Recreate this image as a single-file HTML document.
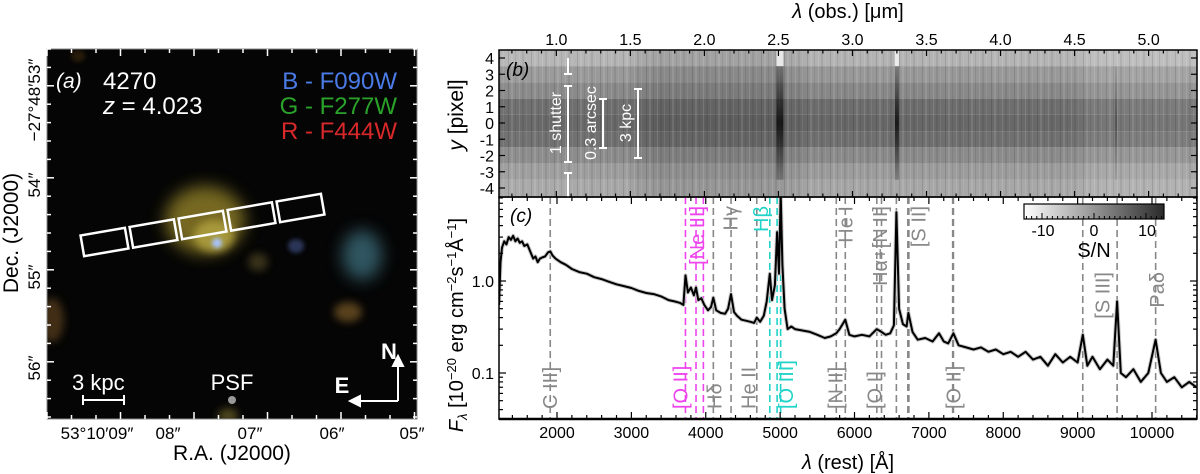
<!DOCTYPE html>
<html><head><meta charset="utf-8">
<style>
html,body{margin:0;padding:0;background:#fff;}
svg{display:block;font-family:"Liberation Sans",sans-serif;}
</style></head>
<body>
<svg id="fig" width="1200" height="474" viewBox="0 0 1200 474" xmlns="http://www.w3.org/2000/svg">
<defs>
  <filter id="blur8" x="-50%" y="-50%" width="200%" height="200%"><feGaussianBlur stdDeviation="8"/></filter>
  <filter id="blur4" x="-50%" y="-50%" width="200%" height="200%"><feGaussianBlur stdDeviation="4"/></filter>
  <filter id="blur2" x="-50%" y="-50%" width="200%" height="200%"><feGaussianBlur stdDeviation="2"/></filter>
  <linearGradient id="cbar" x1="0" x2="1" y1="0" y2="0">
    <stop offset="0" stop-color="#ffffff"/><stop offset="1" stop-color="#2a2a2a"/>
  </linearGradient>
  <linearGradient id="vline" x1="0" x2="0" y1="0" y2="1">
    <stop offset="0" stop-color="#111" stop-opacity="0.25"/>
    <stop offset="0.5" stop-color="#000" stop-opacity="0.85"/>
    <stop offset="1" stop-color="#111" stop-opacity="0.25"/>
  </linearGradient>
  <linearGradient id="bandshade" x1="0" x2="1" y1="0" y2="0">
    <stop offset="0" stop-color="#000" stop-opacity="0"/>
    <stop offset="0.18" stop-color="#000" stop-opacity="0.02"/>
    <stop offset="0.22" stop-color="#000" stop-opacity="0.12"/>
    <stop offset="0.40" stop-color="#000" stop-opacity="0.12"/>
    <stop offset="0.45" stop-color="#000" stop-opacity="0.03"/>
    <stop offset="0.80" stop-color="#000" stop-opacity="0.02"/>
    <stop offset="0.85" stop-color="#fff" stop-opacity="0.08"/>
    <stop offset="1" stop-color="#fff" stop-opacity="0.08"/>
  </linearGradient>
  <pattern id="stripes" width="23" height="10" patternUnits="userSpaceOnUse">
    <rect x="2" y="0" width="1" height="10" fill="#000" opacity="0.12"/>
    <rect x="5" y="0" width="2" height="10" fill="#fff" opacity="0.1"/>
    <rect x="9" y="0" width="1" height="10" fill="#000" opacity="0.08"/>
    <rect x="13" y="0" width="1" height="10" fill="#fff" opacity="0.12"/>
    <rect x="16" y="0" width="2" height="10" fill="#000" opacity="0.07"/>
    <rect x="20" y="0" width="1" height="10" fill="#fff" opacity="0.08"/>
  </pattern>
</defs>

<!-- ================= PANEL A ================= -->
<g>
  <rect x="47" y="49" width="370" height="370" fill="#050505"/>
  <clipPath id="clipA"><rect x="47" y="49" width="370" height="370"/></clipPath>
  <g clip-path="url(#clipA)">
    <ellipse cx="205" cy="220" rx="40" ry="34" fill="#8a7a28" opacity="0.85" filter="url(#blur8)"/>
    <ellipse cx="214" cy="236" rx="20" ry="16" fill="#b0a040" opacity="0.85" filter="url(#blur4)"/>
    <circle cx="217" cy="243" r="5" fill="#a8c4ff" filter="url(#blur2)"/>
    <ellipse cx="362" cy="255" rx="20" ry="25" fill="#3a6a78" opacity="0.8" filter="url(#blur8)"/>
    <ellipse cx="348" cy="312" rx="14" ry="10" fill="#7a5a28" opacity="0.7" filter="url(#blur4)"/>
    <ellipse cx="296" cy="246" rx="8" ry="7" fill="#3a4a7a" opacity="0.7" filter="url(#blur2)"/>
    <ellipse cx="258" cy="262" rx="10" ry="9" fill="#5a5028" opacity="0.6" filter="url(#blur4)"/>
    <ellipse cx="52" cy="320" rx="12" ry="22" fill="#6a4a20" opacity="0.6" filter="url(#blur4)"/>
    <ellipse cx="228" cy="416" rx="10" ry="8" fill="#6a6028" opacity="0.7" filter="url(#blur4)"/>
    <ellipse cx="78" cy="56" rx="7" ry="6" fill="#4a3010" opacity="0.5" filter="url(#blur2)"/>
  </g>
  <rect x="47" y="49" width="370" height="370" fill="none" stroke="#888" stroke-width="1"/>
  <g id="imgTicks"></g>
  <g id="slits"></g>
  <text x="56" y="88" fill="#fff" font-size="21" font-style="italic">(a)</text>
  <text x="103" y="89" fill="#fff" font-size="24">4270</text>
  <text x="103" y="114" fill="#fff" font-size="24"><tspan font-style="italic">z</tspan> = 4.023</text>
  <text x="397" y="89" fill="#4a7be6" font-size="24" text-anchor="end">B - F090W</text>
  <text x="397" y="114" fill="#2aa32a" font-size="24" text-anchor="end">G - F277W</text>
  <text x="397" y="139" fill="#d8282a" font-size="24" text-anchor="end">R - F444W</text>
  <text x="72" y="390" fill="#fff" font-size="22">3 kpc</text>
  <g stroke="#fff" stroke-width="2">
    <line x1="83" y1="400" x2="124" y2="400"/><line x1="83" y1="395" x2="83" y2="405"/><line x1="124" y1="395" x2="124" y2="405"/>
  </g>
  <text x="232" y="390" fill="#fff" font-size="22" text-anchor="middle">PSF</text>
  <circle cx="232" cy="400" r="4" fill="#999"/>
  <text x="389" y="359" fill="#fff" font-size="22" font-weight="bold" text-anchor="middle">N</text>
  <text x="342" y="393" fill="#fff" font-size="22" font-weight="bold" text-anchor="middle">E</text>
  <g stroke="#fff" stroke-width="2" fill="#fff">
    <line x1="398" y1="401" x2="398" y2="363"/><polygon points="398,356 393,366 403,366"/>
    <line x1="398" y1="401" x2="358" y2="401"/><polygon points="350,401 360,396 360,406"/>
  </g>
  <g font-size="17" fill="#000">
    <text x="97" y="439" text-anchor="middle">53°10′09″</text>
    <text x="168" y="439" text-anchor="middle">08″</text>
    <text x="250" y="439" text-anchor="middle">07″</text>
    <text x="332" y="439" text-anchor="middle">06″</text>
    <text x="412" y="439" text-anchor="middle">05″</text>
  </g>
  <text x="232" y="460" font-size="21" text-anchor="middle">R.A. (J2000)</text>
  <g font-size="17" fill="#000">
    <text transform="translate(40,100) rotate(-90)" text-anchor="middle">−27°48′53″</text>
    <text transform="translate(40,185) rotate(-90)" text-anchor="middle">54″</text>
    <text transform="translate(40,277) rotate(-90)" text-anchor="middle">55″</text>
    <text transform="translate(40,368) rotate(-90)" text-anchor="middle">56″</text>
  </g>
  <text transform="translate(18,233) rotate(-90)" font-size="21" text-anchor="middle">Dec. (J2000)</text>
</g>

<!-- ================= PANEL B ================= -->
<g>
  <g id="spec2d"></g>
  <rect x="499" y="50" width="698" height="147" fill="url(#bandshade)"/>
  <rect x="499" y="50" width="698" height="147" fill="url(#stripes)"/>
  <g id="darkLines"></g>
  <rect x="499" y="50" width="698" height="147" fill="none" stroke="#000" stroke-width="1.5"/>
  <g id="bTicks"></g>
  <text x="506" y="76" font-size="19" font-style="italic">(b)</text>
  <g stroke="#fff" stroke-width="2">
    <line x1="568" y1="58" x2="568" y2="74"/><line x1="564" y1="74" x2="572" y2="74"/>
    <line x1="568" y1="86" x2="568" y2="162"/><line x1="564" y1="86" x2="572" y2="86"/><line x1="564" y1="162" x2="572" y2="162"/>
    <line x1="568" y1="173" x2="568" y2="197"/><line x1="564" y1="173" x2="572" y2="173"/>
  </g>
  <g stroke="#fff" stroke-width="2">
    <line x1="603" y1="99" x2="603" y2="148"/><line x1="599" y1="99" x2="607" y2="99"/><line x1="599" y1="148" x2="607" y2="148"/>
  </g>
  <g stroke="#fff" stroke-width="2">
    <line x1="638" y1="89" x2="638" y2="158"/><line x1="634" y1="89" x2="642" y2="89"/><line x1="634" y1="158" x2="642" y2="158"/>
  </g>
  <text transform="translate(561,123) rotate(-90)" fill="#fff" font-size="16" text-anchor="middle">1 shutter</text>
  <text transform="translate(596,123) rotate(-90)" fill="#fff" font-size="16" text-anchor="middle">0.3 arcsec</text>
  <text transform="translate(631,123) rotate(-90)" fill="#fff" font-size="16" text-anchor="middle">3 kpc</text>
  <text x="848" y="18" font-size="20" text-anchor="middle"><tspan font-style="italic">λ</tspan> (obs.) [μm]</text>
  <text transform="translate(463,115) rotate(-90)" font-size="21" text-anchor="middle"><tspan font-style="italic">y</tspan> [pixel]</text>
</g>

<!-- ================= PANEL C ================= -->
<g>
  <clipPath id="clipC"><rect x="499" y="197" width="698" height="222"/></clipPath>
  <g id="lineMarks"></g>
  <g clip-path="url(#clipC)">
    <polyline id="errLine" fill="none" stroke="#c8c8c8" stroke-width="4" stroke-linejoin="round"/>
    <polyline id="specLine" fill="none" stroke="#000" stroke-width="2" stroke-linejoin="round"/>
  </g>
  <g id="lineLabels"></g>
  <rect x="499" y="197" width="698" height="222" fill="none" stroke="#000" stroke-width="1.5"/>
  <line x1="499" y1="419" x2="1197" y2="419" stroke="#000" stroke-width="2.5"/>
  <g id="cTicks"></g>
  <text x="510" y="222" font-size="19" font-style="italic">(c)</text>
  <g>
    <rect x="1024" y="204" width="140" height="15" fill="url(#cbar)" stroke="#000" stroke-width="1.2"/>
    <g id="cbTicks"></g>
    <text x="1043" y="236" font-size="16" text-anchor="middle">-10</text>
    <text x="1094" y="236" font-size="16" text-anchor="middle">0</text>
    <text x="1147" y="236" font-size="16" text-anchor="middle">10</text>
    <text x="1094" y="257" font-size="20" text-anchor="middle">S/N</text>
  </g>
  <text x="848" y="469" font-size="20" text-anchor="middle"><tspan font-style="italic">λ</tspan> (rest) [Å]</text>
  <text transform="translate(463,325) rotate(-90)" font-size="20" text-anchor="middle"><tspan font-style="italic">F</tspan><tspan font-size="13" dy="4" font-style="italic">λ</tspan><tspan dy="-4"> [10</tspan><tspan font-size="13" dy="-7">−20</tspan><tspan dy="7"> erg cm</tspan><tspan font-size="13" dy="-7">−2</tspan><tspan dy="7">s</tspan><tspan font-size="13" dy="-7">−1</tspan><tspan dy="7">Å</tspan><tspan font-size="13" dy="-7">−1</tspan><tspan dy="7">]</tspan></text>
</g>
</svg>

<script>
// ---------- data ----------
const restWave = [1220,1240,1260,1290,1320,1350,1380,1410,1440,1470,1500,1530,1560,1600,1640,1680,1710,1740,1770,1800,1840,1880,1910,1940,1980,2050,2120,2200,2300,2400,2500,2600,2700,2800,2900,3000,3100,3200,3300,3400,3500,3580,3650,3700,3727,3760,3800,3840,3869,3900,3940,3980,4030,4070,4102,4140,4200,4260,4300,4340,4380,4420,4480,4540,4600,4650,4686,4730,4780,4820,4861,4890,4930,4959,4985,5007,5030,5060,5100,5150,5200,5300,5400,5500,5600,5680,5755,5800,5876,5930,6000,6100,6200,6300,6363,6420,6480,6530,6563,6600,6650,6700,6725,6780,6850,6950,7050,7136,7200,7260,7330,7400,7500,7600,7700,7800,7900,8000,8100,8200,8300,8400,8500,8600,8700,8800,8900,9000,9069,9130,9200,9300,9400,9480,9531,9580,9650,9750,9850,9950,10049,10120,10200,10300,10400,10500,10600];
const fluxVal  = [0.55,1.6,2.3,2.7,2.5,3.0,2.8,3.1,2.7,2.9,2.6,2.7,2.4,2.5,2.1,1.75,1.85,1.6,1.75,1.8,1.85,2.05,2.1,1.9,1.75,1.6,1.5,1.35,1.25,1.2,1.1,1.05,0.98,0.92,0.88,0.84,0.78,0.74,0.72,0.68,0.62,0.6,0.58,0.55,1.15,0.75,0.85,0.7,0.85,0.62,0.65,0.55,0.48,0.52,0.66,0.48,0.45,0.44,0.5,0.72,0.46,0.42,0.38,0.37,0.36,0.35,0.4,0.36,0.42,0.6,1.2,0.62,0.9,3.4,1.2,9,1.5,0.5,0.3,0.32,0.3,0.29,0.28,0.26,0.24,0.25,0.27,0.3,0.38,0.26,0.25,0.26,0.25,0.3,0.28,0.26,0.27,0.33,5.6,0.5,0.34,0.32,0.45,0.28,0.23,0.24,0.22,0.27,0.22,0.21,0.27,0.2,0.19,0.18,0.19,0.17,0.18,0.16,0.17,0.15,0.17,0.14,0.15,0.12,0.16,0.13,0.15,0.13,0.26,0.12,0.15,0.11,0.14,0.12,0.6,0.1,0.09,0.11,0.08,0.1,0.23,0.1,0.08,0.09,0.07,0.08,0.07];
const lineWaves  = [1909,3727,3869,3968,4102,4340,4686,4861,4959,5007,5755,5876,6300,6363,6563,6717,6731,7320,7330,9069,9531,10049];
const lineColors = ["#888","#ee44ee","#ee44ee","#ee44ee","#888","#888","#888","#22d3c8","#22d3c8","#22d3c8","#888","#888","#888","#888","#888","#888","#888","#888","#888","#888","#888","#888"];
const labelText  = ["C III]","[O II]","[Ne III]","Hδ","Hγ","He II","Hβ","[O III]","[N II]","He I","[O I]","Hα+[N II]","[S II]","[O II]","[S III]","Paδ"];
const labelWave  = [1909,3660,3880,4120,4330,4575,4740,5080,5745,5880,6270,6345,6860,7330,9335,10070];
const labelColor = ["#888","#ee44ee","#ee44ee","#888","#888","#888","#22d3c8","#22d3c8","#888","#888","#888","#888","#888","#888","#888","#888"];
const labelSide  = ["bottom","bottom","top","bottom","top","bottom","top","bottom","bottom","top","bottom","top","top","bottom","mid","mid"];
const restTicks  = [2000,3000,4000,5000,6000,7000,8000,9000,10000];
const fluxTicks  = [1.0,0.1];
const fluxTickLabels = ["1.0","0.1"];
const obsTicks   = [1.0,1.5,2.0,2.5,3.0,3.5,4.0,4.5,5.0];
const pixTicks   = [4,3,2,1,0,-1,-2,-3,-4];
const rowGray    = ["#b8b8b8","#9c9c9c","#8c8c8c","#707070","#6a6a6a","#727272","#8e8e8e","#a0a0a0","#ababab"];
const obsLines2d = [2.51,3.30,4.78];
const redshift = 4.023;

// ---------- scales ----------
const X0=499, X1=1197, W0=1220, W1=10605;
function xRest(w){ return X0 + (w-W0)/(W1-W0)*(X1-X0); }
function xObs(um){ return xRest(um*1e4/(1+redshift)); }
function yFlux(f){ return 281 - 92*Math.log10(f); }
function yPix(p){ return 123 - p*16.25; }
const NS="http://www.w3.org/2000/svg";
function mk(tag, attrs, parent){ const e=document.createElementNS(NS,tag); for(const k in attrs) e.setAttribute(k,attrs[k]); parent.appendChild(e); return e; }

// ---------- panel a ticks & slits ----------
const it=document.getElementById('imgTicks');
for(let i=0;i<=15;i++){
  const x=47+i*24.5, len=(i%3===0)?7:4;
  mk('line',{x1:x,y1:49,x2:x,y2:49+len,stroke:'#fff','stroke-width':1.5},it);
  mk('line',{x1:x,y1:419,x2:x,y2:419-len,stroke:'#fff','stroke-width':1.5},it);
}
for(let i=0;i<=20;i++){
  const y=49+i*18.4, len=(i%5===2)?7:4;
  mk('line',{x1:47,y1:y,x2:47+len,y2:y,stroke:'#fff','stroke-width':1.5},it);
  mk('line',{x1:417,y1:y,x2:417-len,y2:y,stroke:'#fff','stroke-width':1.5},it);
}
const sl=document.getElementById('slits');
for(let i=0;i<5;i++){
  const cx=104.5+i*49, cy=242-i*8.5;
  const r=mk('rect',{x:cx-22.5,y:cy-10.5,width:45,height:21,fill:'none',stroke:'#fff','stroke-width':2.5,transform:`rotate(-9.8 ${cx} ${cy})`},sl);
  
  
}

// ---------- panel b ----------
const s2=document.getElementById('spec2d');
pixTicks.forEach((p,i)=>{
  const r=mk('rect',{x:X0,y:yPix(p)-8.125,width:X1-X0,height:16.25,fill:rowGray[i]},s2);
  
  
});
const dl=document.getElementById('darkLines');
obsLines2d.forEach((um,i)=>{
  const x=xObs(um), w=i===0?7:(i===1?4:2);
  const r=mk('rect',{x:x-w/2,y:yPix(3.5),width:w,height:yPix(-3.5)-yPix(3.5),fill:'url(#vline)',opacity:i===2?0.35:0.9},dl);
  
  
  if(i<2){ mk('rect',{x:x-w/2,y:51,width:w,height:yPix(3.5)-51,fill:'#fff',opacity:0.75},dl); }
});
const bt=document.getElementById('bTicks');
for(let v=0.7; v<=5.25; v+=0.1){
  const x=xObs(v); if(x<X0||x>X1) continue;
  const major=Math.abs(v*2-Math.round(v*2))<0.01;
  const L=major?6:3.5;
  mk('line',{x1:x,y1:50,x2:x,y2:50+L,stroke:'#000','stroke-width':1.2},bt);
  mk('line',{x1:x,y1:197,x2:x,y2:197-L,stroke:'#000','stroke-width':1.2},bt);
}
obsTicks.forEach(v=>{
  const t=mk('text',{x:xObs(v),y:45,'font-size':16,'text-anchor':'middle'},bt); t.textContent=v.toFixed(1);
  
  
});
pixTicks.forEach(p=>{
  const y=yPix(p);
  mk('line',{x1:X0,y1:y,x2:X0+6,y2:y,stroke:'#000','stroke-width':1.2},bt);
  mk('line',{x1:X1,y1:y,x2:X1-6,y2:y,stroke:'#000','stroke-width':1.2},bt);
  const t=mk('text',{x:494,y:y+6,'font-size':16,'text-anchor':'end'},bt); t.textContent=String(p);
  
  
});

// ---------- panel c ----------
const lm=document.getElementById('lineMarks');
lineWaves.forEach((w,i)=>{
  const l=mk('line',{x1:xRest(w),y1:197,x2:xRest(w),y2:419,stroke:lineColors[i],'stroke-width':1.6,'stroke-dasharray':'7,4'},lm);
  
  
});
const ll=document.getElementById('lineLabels');
labelText.forEach((txt,i)=>{
  const x=xRest(labelWave[i])+7;
  let y, anchor;
  if(labelSide[i]==='bottom'){ y=409; anchor='start'; }
  else if(labelSide[i]==='top'){ y=206; anchor='end'; }
  else { y=272; anchor='end'; }
  const t=mk('text',{transform:`translate(${x},${y}) rotate(-90)`,'font-size':20,fill:labelColor[i],'text-anchor':anchor},ll);
  t.textContent=txt;
  
  
});
let pts=restWave.map((w,i)=>xRest(w).toFixed(1)+','+yFlux(fluxVal[i]).toFixed(1)).join(' ');
document.getElementById('specLine').setAttribute('points',pts);
document.getElementById('errLine').setAttribute('points',pts);

const ct=document.getElementById('cTicks');
for(let w=1400; w<=10600; w+=200){
  const x=xRest(w); const major=(w%1000===0); const L=major?7:4;
  mk('line',{x1:x,y1:419,x2:x,y2:419-L,stroke:'#000','stroke-width':1.2},ct);
  mk('line',{x1:x,y1:197,x2:x,y2:197+L,stroke:'#000','stroke-width':1.2},ct);
}
restTicks.forEach(w=>{
  const t=mk('text',{x:xRest(w),y:438,'font-size':16,'text-anchor':'middle'},ct); t.textContent=String(w);
  
  
});
[0.04,0.05,0.06,0.07,0.08,0.09,0.1,0.2,0.3,0.4,0.5,0.6,0.7,0.8,0.9,1,2,3,4,5,6,7,8].forEach(f=>{
  const y=yFlux(f); if(y<197||y>419) return;
  const major=(f===0.1||f===1); const L=major?7:4;
  mk('line',{x1:X0,y1:y,x2:X0+L,y2:y,stroke:'#000','stroke-width':1.2},ct);
  mk('line',{x1:X1,y1:y,x2:X1-L,y2:y,stroke:'#000','stroke-width':1.2},ct);
});
fluxTicks.forEach((f,i)=>{
  const t=mk('text',{x:494,y:yFlux(f)+6,'font-size':16,'text-anchor':'end'},ct); t.textContent=fluxTickLabels[i];
  
  
});
const cb=document.getElementById('cbTicks');
for(let v=-14; v<=14; v+=1){
  const x=1094+v*5.2; if(x<1025||x>1163) continue;
  const L=(v%10===0)?6:3;
  mk('line',{x1:x,y1:219,x2:x,y2:219-L,stroke:'#000','stroke-width':1},cb);
}
</script>
</body></html>
